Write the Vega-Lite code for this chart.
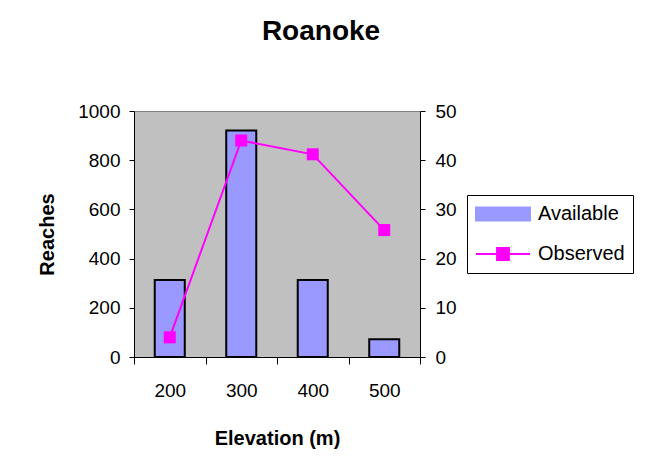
{
  "$schema": "https://vega.github.io/schema/vega-lite/v6.json",
  "width": 286,
  "height": 246,
  "autosize": {"type": "none"},
  "padding": {"left": 134, "top": 111, "right": 225, "bottom": 119},
  "background": "white",
  "title": {
    "text": "Roanoke",
    "fontSize": 28,
    "fontWeight": "bold",
    "font": "Liberation Sans",
    "color": "black",
    "anchor": "middle",
    "dx": 44,
    "offset": 56
  },
  "config": {
    "view": {"fill": "#C0C0C0", "stroke": "#808080", "strokeWidth": 1},
    "axis": {
      "grid": false,
      "domainColor": "black",
      "tickColor": "black",
      "labelColor": "black",
      "titleColor": "black",
      "labelFont": "Liberation Sans",
      "titleFont": "Liberation Sans",
      "labelFontSize": 19,
      "titleFontSize": 20,
      "titleFontWeight": "bold",
      "domainWidth": 1,
      "tickWidth": 1
    },
    "legend": {
      "orient": "none",
      "legendX": 333,
      "legendY": 84,
      "padding": 8,
      "rowPadding": 18,
      "clipHeight": 22,
      "symbolSize": 2916,
      "labelOffset": 7,
      "labelFontSize": 20,
      "labelFont": "Liberation Sans",
      "labelColor": "black",
      "strokeColor": "black",
      "fillColor": "white"
    }
  },
  "data": {
    "values": [
      {"elev": "200", "reaches": 313, "observed": 4},
      {"elev": "300", "reaches": 921, "observed": 44},
      {"elev": "400", "reaches": 313, "observed": 41.2},
      {"elev": "500", "reaches": 72, "observed": 25.8}
    ]
  },
  "encoding": {
    "x": {
      "field": "elev",
      "type": "ordinal",
      "scale": {"paddingInner": 0, "paddingOuter": 0},
      "axis": {
        "title": "Elevation (m)",
        "labelAngle": 0,
        "tickBand": "extent",
        "tickSize": 7,
        "labelPadding": 17,
        "titlePadding": 28
      }
    }
  },
  "layer": [
    {
      "mark": {"type": "bar", "width": {"band": 0.42}, "stroke": "black", "strokeWidth": 2},
      "encoding": {
        "y": {
          "field": "reaches",
          "type": "quantitative",
          "scale": {"domain": [0, 1000]},
          "axis": {
            "title": "Reaches",
            "format": "d",
            "values": [0, 200, 400, 600, 800, 1000],
            "tickSize": 5,
            "labelPadding": 9,
            "titlePadding": 20
          }
        },
        "color": {
          "datum": "Available",
          "type": "nominal",
          "scale": {"domain": ["Available", "Observed"], "range": ["#9999FF", "#FF00FF"]},
          "legend": {
            "title": null,
            "encode": {
              "symbols": {
                "update": {
                  "shape": {"signal": "datum.value === 'Available' ? 'M-1,-0.24H1V0.24H-1Z' : 'M-1,0H-0.22M0.22,0H1M-0.22,-0.22H0.22V0.22H-0.22Z'"},
                  "fill": {"signal": "datum.value === 'Available' ? '#9999FF' : '#FF00FF'"},
                  "stroke": {"signal": "datum.value === 'Available' ? '#000000' : '#FF00FF'"},
                  "strokeWidth": {"value": 2},
                  "strokeOpacity": {"value": 1},
                  "fillOpacity": {"value": 1},
                  "size": {"value": 2916},
                  "opacity": {"value": 1}
                }
              }
            }
          }
        }
      }
    },
    {
      "mark": {
        "type": "line",
        "strokeWidth": 2,
        "point": {"filled": true, "shape": "square", "size": 144}
      },
      "encoding": {
        "y": {
          "field": "observed",
          "type": "quantitative",
          "scale": {"domain": [0, 50]},
          "axis": {
            "orient": "right",
            "title": null,
            "values": [0, 10, 20, 30, 40, 50],
            "tickSize": 5,
            "labelPadding": 10
          }
        },
        "color": {
          "datum": "Observed",
          "type": "nominal",
          "legend": {
            "title": null,
            "encode": {
              "symbols": {
                "update": {
                  "shape": {"signal": "datum.value === 'Available' ? 'M-1,-0.24H1V0.24H-1Z' : 'M-1,0H-0.22M0.22,0H1M-0.22,-0.22H0.22V0.22H-0.22Z'"},
                  "fill": {"signal": "datum.value === 'Available' ? '#9999FF' : '#FF00FF'"},
                  "stroke": {"signal": "datum.value === 'Available' ? '#000000' : '#FF00FF'"},
                  "strokeWidth": {"value": 2},
                  "strokeOpacity": {"value": 1},
                  "fillOpacity": {"value": 1},
                  "size": {"value": 2916},
                  "opacity": {"value": 1}
                }
              }
            }
          }
        }
      }
    }
  ],
  "resolve": {"scale": {"y": "independent"}}
}
